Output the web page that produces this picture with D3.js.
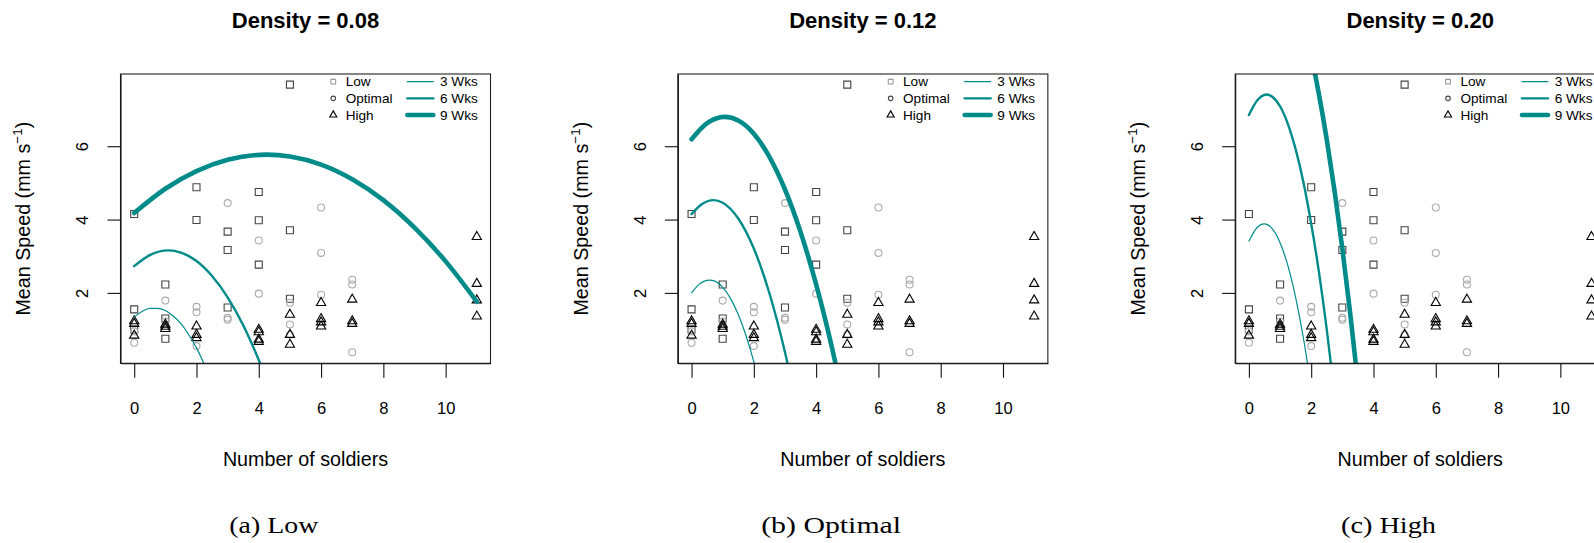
<!DOCTYPE html>
<html>
<head>
<meta charset="utf-8">
<script src="https://cdn.jsdelivr.net/npm/d3@7"></script>
<style>
  html, body { margin: 0; padding: 0; background: #fff; overflow: hidden; }
  svg { display: block; }
</style>
</head>
<body>
<svg id="chart" width="1594" height="543"></svg>
<script>
// panel titles, captions and ticks
var densityTitles = ["Density = 0.08", "Density = 0.12", "Density = 0.20"];
var captions = ["(a) Low", "(b) Optimal", "(c) High"];
var soldierTicks = [0, 2, 4, 6, 8, 10];
var speedTicks = [2, 4, 6];
var groupNames = ["Low", "Optimal", "High"];
var weekNames = ["3 Wks", "6 Wks", "9 Wks"];

// observed points (same in all three panels)
var lowSoldiers = [0, 0, 0, 1, 1, 1, 2, 2, 3, 3, 3, 4, 4, 4, 5, 5, 5];
var lowSpeed = [4.15, 1.55, 1.0, 2.23, 1.30, 0.75, 4.88, 3.99, 3.67, 3.17, 1.60, 4.75, 3.98, 2.77, 7.68, 3.71, 1.84];

var optimalSoldiers = [0, 0, 1, 1, 2, 2, 2, 3, 3, 3, 4, 4, 5, 5, 5, 6, 6, 6, 7, 7, 7];
var optimalSpeed = [0.95, 0.64, 1.79, 1.22, 1.62, 1.47, 0.55, 4.45, 1.32, 1.27, 3.43, 1.98, 1.73, 1.14, 0.86, 4.33, 3.09, 1.95, 2.36, 2.23, 0.38];

var highSoldiers = [0, 0, 0, 1, 1, 1, 2, 2, 2, 4, 4, 4, 4, 5, 5, 5, 6, 6, 6, 6, 7, 7, 7, 11, 11, 11, 11];
var highSpeed = [1.23, 1.16, 0.84, 1.14, 1.08, 1.02, 1.09, 0.86, 0.77, 1.00, 0.93, 0.73, 0.67, 1.41, 0.86, 0.59, 1.73, 1.29, 1.20, 1.09, 1.82, 1.23, 1.16, 3.53, 2.25, 1.80, 1.36];

// fitted curves, [soldiers, speed]
var fitLow3 = [[0, 1.34], [0.25, 1.49], [0.5, 1.58], [0.75, 1.58], [1, 1.52], [1.25, 1.37], [1.5, 1.16], [1.75, 0.86], [2, 0.50], [2.25, 0.05], [2.5, -0.46]];
var fitLow6 = [[0, 2.73], [0.5, 3.03], [1.1, 3.16], [1.5, 3.10], [2, 2.87], [2.5, 2.46], [3, 1.88], [3.5, 1.12], [4, 0.17], [4.5, -0.94]];
var fitLow9 = [[0, 4.18], [1, 4.84], [2, 5.32], [3, 5.63], [4.25, 5.77], [5, 5.72], [6, 5.50], [7, 5.10], [8, 4.53], [9, 3.78], [10, 2.86], [11, 1.76]];

var fitOpt3 = [[0, 2.0], [0.25, 2.24], [0.57, 2.35], [0.75, 2.32], [1, 2.15], [1.25, 1.85], [1.5, 1.41], [1.75, 0.83], [2, 0.12], [2.25, -0.73]];
var fitOpt6 = [[0, 4.15], [0.35, 4.43], [0.7, 4.53], [1, 4.46], [1.5, 4.03], [2, 3.21], [2.5, 1.99], [3, 0.38], [3.25, -0.57]];
var fitOpt9 = [[0, 6.19], [0.5, 6.63], [1.07, 6.80], [1.5, 6.70], [2, 6.34], [2.5, 5.71], [3, 4.82], [3.5, 3.66], [4, 2.23], [4.5, 0.54], [4.8, -0.60]];

var fitHigh3 = [[0, 3.41], [0.25, 3.77], [0.49, 3.88], [0.75, 3.75], [1, 3.37], [1.25, 2.75], [1.5, 1.88], [1.75, 0.77], [2, -0.59]];
var fitHigh6 = [[0, 6.85], [0.25, 7.23], [0.57, 7.41], [0.75, 7.35], [1, 7.09], [1.25, 6.61], [1.5, 5.92], [1.75, 5.02], [2, 3.89], [2.25, 2.56], [2.5, 1.00], [2.75, -0.76]];
var fitHigh9 = [[0, 10.68], [0.6, 11.18], [1, 10.96], [1.5, 10.06], [2, 8.47], [2.25, 7.41], [2.5, 6.18], [2.75, 4.78], [3, 3.21], [3.25, 1.46], [3.5, -0.46]];

var panelFits = [[fitLow3, fitLow6, fitLow9], [fitOpt3, fitOpt6, fitOpt9], [fitHigh3, fitHigh6, fitHigh9]];

var svg = d3.select("#chart");
var teal = "#008b8b";
var sans = "'Liberation Sans', Arial, Helvetica, sans-serif";
var panelStep = 557.35;
var plotLeft = 120.5, plotTop = 74, plotW = 370, plotH = 289.3;
var lineWidths = [1.2, 2.4, 4.6];
var captionWidths = [89, 140, 95];

var x = d3.scaleLinear().domain([-0.44, 11.44]).range([0, plotW]);
var y = d3.scaleLinear().domain([0.08, 7.97]).range([plotH, 0]);

var squareSym = d3.symbol().type(d3.symbolSquare).size(49);
var circleSym = d3.symbol().type(d3.symbolCircle).size(38);
var triangleSym = d3.symbol().type(d3.symbolTriangle).size(37);

var groups = [
  {xs: lowSoldiers, ys: lowSpeed, sym: squareSym, col: "#444"},
  {xs: optimalSoldiers, ys: optimalSpeed, sym: circleSym, col: "#aaa"},
  {xs: highSoldiers, ys: highSpeed, sym: triangleSym, col: "#000"}
];

var line = d3.line()
  .x(function(d) { return x(d[0]); })
  .y(function(d) { return y(d[1]); })
  .curve(d3.curveMonotoneX);

densityTitles.forEach(function(title, i) {
  var off = i * panelStep;
  var g = svg.append("g").attr("transform", "translate(" + (off + plotLeft) + "," + plotTop + ")");

  svg.append("text")
    .attr("x", off + plotLeft + plotW / 2).attr("y", 27.5)
    .attr("text-anchor", "middle")
    .style("font-family", sans).style("font-weight", "bold").style("font-size", "22px")
    .text(title);

  g.append("clipPath").attr("id", "clip" + i)
    .append("rect").attr("width", plotW).attr("height", plotH);

  // points
  groups.forEach(function(grp) {
    g.append("g").selectAll("path")
      .data(grp.xs.map(function(v, k) { return [v, grp.ys[k]]; }))
      .enter().append("path")
      .attr("d", grp.sym)
      .attr("transform", function(d) { return "translate(" + x(d[0]) + "," + y(d[1]) + ")"; })
      .attr("fill", "none")
      .attr("stroke", grp.col)
      .attr("stroke-width", 1.1);
  });

  // curves
  g.append("g").attr("clip-path", "url(#clip" + i + ")")
    .selectAll("path")
    .data(panelFits[i])
    .enter().append("path")
    .attr("d", line)
    .attr("fill", "none")
    .attr("stroke", teal)
    .attr("stroke-linecap", "round")
    .attr("stroke-width", function(d, k) { return lineWidths[k]; });

  // box
  g.append("rect").attr("width", plotW).attr("height", plotH)
    .attr("fill", "none").attr("stroke", "#222").attr("stroke-width", 1.1);

  // axes
  var xAxis = g.append("g").attr("transform", "translate(0," + plotH + ")")
    .call(d3.axisBottom(x).tickValues(soldierTicks).tickSize(14.5).tickPadding(24.4).tickSizeOuter(0));
  xAxis.selectAll("text").style("font-family", sans).style("font-size", "16.5px").attr("fill", "#000");
  xAxis.selectAll("line, path").attr("stroke", "#111").attr("stroke-width", 1.1);

  var yAxis = g.append("g")
    .call(d3.axisLeft(y).tickValues(speedTicks).tickSize(13).tickSizeOuter(0));
  yAxis.selectAll("text")
    .attr("x", null).attr("dy", "0.35em")
    .attr("text-anchor", "middle")
    .attr("transform", "translate(-37.9,0) rotate(-90)")
    .style("font-family", sans).style("font-size", "16.5px").attr("fill", "#000");
  yAxis.selectAll("line, path").attr("stroke", "#111").attr("stroke-width", 1.1);

  // axis titles
  svg.append("text")
    .attr("x", off + plotLeft + plotW / 2).attr("y", 459.5).attr("dy", "0.35em")
    .attr("text-anchor", "middle")
    .style("font-family", sans).style("font-size", "19.7px")
    .text("Number of soldiers");

  var yt = svg.append("text")
    .attr("transform", "translate(" + (off + 23.4) + "," + (plotTop + plotH / 2) + ") rotate(-90)")
    .attr("dy", "0.35em")
    .attr("text-anchor", "middle")
    .style("font-family", sans).style("font-size", "19.7px");
  yt.append("tspan").text("Mean Speed (mm s");
  yt.append("tspan").attr("dy", -8).style("font-size", "13.5px").text("\u22121");
  yt.append("tspan").attr("dy", 8).text(")");

  // legends
  var leg = g.append("g").style("font-family", sans).style("font-size", "13.6px");
  var legSyms = [d3.symbol().type(d3.symbolSquare).size(22), d3.symbol().type(d3.symbolCircle).size(16), d3.symbol().type(d3.symbolTriangle).size(22)];
  var legCols = ["#999", "#444", "#000"];
  groupNames.forEach(function(name, k) {
    var ry = 7.7 + k * 16.65;
    leg.append("path").attr("d", legSyms[k])
      .attr("transform", "translate(212.8," + ry + ")")
      .attr("fill", "none").attr("stroke", legCols[k]).attr("stroke-width", 1.1);
    leg.append("text").attr("x", 225.2).attr("y", ry).attr("dy", "0.35em").text(name);
  });
  weekNames.forEach(function(name, k) {
    var ry = 7.7 + k * 16.65;
    leg.append("line").attr("x1", 286.8).attr("x2", 312.8).attr("y1", ry).attr("y2", ry)
      .attr("stroke", teal).attr("stroke-width", lineWidths[k]).attr("stroke-linecap", "round");
    leg.append("text").attr("x", 319.5).attr("y", ry).attr("dy", "0.35em").text(name);
  });

  // subfigure caption
  svg.append("text")
    .attr("x", 273.8 + off).attr("y", 533.3)
    .attr("text-anchor", "middle")
    .attr("textLength", captionWidths[i])
    .attr("lengthAdjust", "spacingAndGlyphs")
    .style("font-family", "'Liberation Serif', 'Times New Roman', serif")
    .style("font-size", "23.5px")
    .text(captions[i]);
});
</script>
</body>
</html>
